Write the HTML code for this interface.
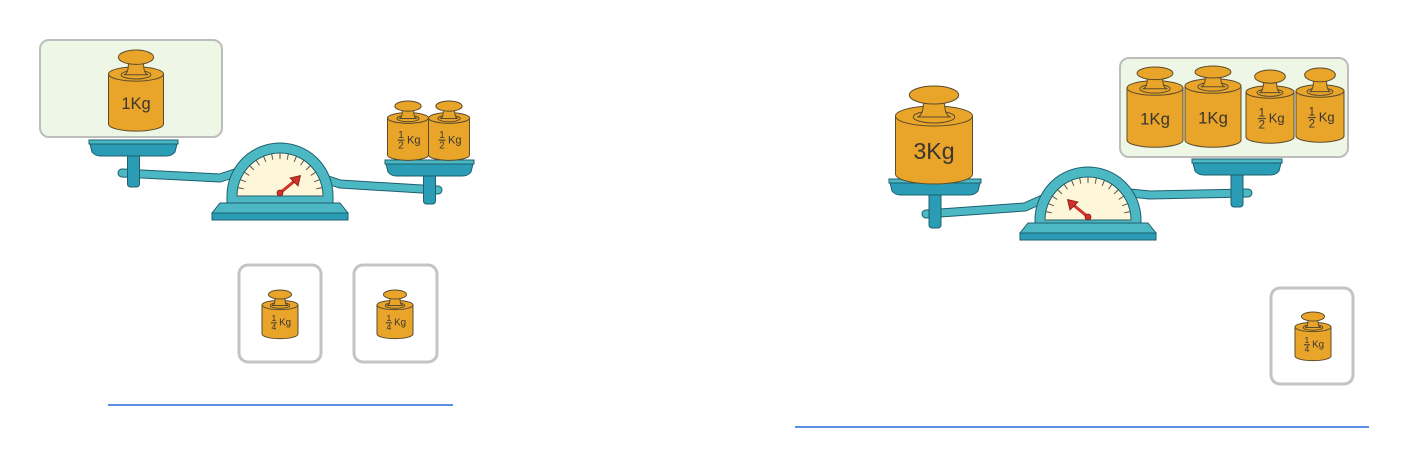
<!DOCTYPE html>
<html><head><meta charset="utf-8"><style>
html,body{margin:0;padding:0;background:#fff;width:1420px;height:467px;overflow:hidden}
svg{display:block}
text{font-family:"Liberation Sans",sans-serif;fill:#3a3530}
</style></head><body>
<svg id="s" width="1420" height="467" viewBox="0 0 1420 467">
<rect x="40" y="40" width="182" height="97" rx="9" fill="#eef6e6" stroke="#bdbdbd" stroke-width="2"/>
<rect x="1120" y="58" width="228" height="99" rx="9" fill="#eef6e6" stroke="#bdbdbd" stroke-width="2"/>
<rect x="239" y="265" width="82" height="97" rx="9" fill="#fff" stroke="#c4c4c4" stroke-width="3"/>
<rect x="354" y="265" width="83" height="97" rx="9" fill="#fff" stroke="#c4c4c4" stroke-width="3"/>
<rect x="1271" y="288" width="82" height="96" rx="9" fill="#fff" stroke="#c4c4c4" stroke-width="3"/>
<line x1="108" y1="405" x2="453" y2="405" stroke="#5b8fe6" stroke-width="2"/>
<line x1="795" y1="427" x2="1369" y2="427" stroke="#5b8fe6" stroke-width="2"/>
</svg>
<script>
const NS="http://www.w3.org/2000/svg";
const svg=document.getElementById('s');
function mk(tag,attrs,parent){const e=document.createElementNS(NS,tag);for(const k in attrs)e.setAttribute(k,attrs[k]);(parent||svg).appendChild(e);return e;}
const OR="#e8a52a",OS="#5b4a2c";
function weight(name,cx,top,bot,w,knobTop,label,num,den){
  const g=mk('g',{});
  
  
  const l=cx-w/2,r=cx+w/2,ry=w*0.13;
  mk('path',{d:`M${l},${top} L${l},${bot} A${w/2},${ry} 0 0 0 ${r},${bot} L${r},${top} Z`,fill:OR,stroke:OS,'stroke-width':1},g);
  mk('ellipse',{cx:cx,cy:top,rx:w/2,ry:ry,fill:OR,stroke:OS,'stroke-width':1},g);
  mk('ellipse',{cx:cx,cy:top+ry*0.1,rx:w*0.27,ry:ry*0.6,fill:OR,stroke:OS,'stroke-width':1},g);
  const kry=(top-knobTop)*0.3;
  mk('path',{d:`M${cx-w*0.14},${knobTop+kry} Q${cx-w*0.12},${top} ${cx-w*0.22},${top+ry*0.1} L${cx+w*0.22},${top+ry*0.1} Q${cx+w*0.12},${top} ${cx+w*0.14},${knobTop+kry} Z`,fill:OR,stroke:OS,'stroke-width':1},g);
  mk('ellipse',{cx:cx,cy:knobTop+kry,rx:w*0.32,ry:kry,fill:OR,stroke:OS,'stroke-width':1},g);
  const ty=(top+ry+bot)/2;
  const fs=w*0.3;
  if(label){const t=mk('text',{x:cx,y:ty+fs*0.4,'text-anchor':'middle','font-size':fs},g);t.textContent=label;}
  else{
    const fx=cx-w*0.17,ffs=fs*0.8;
    const t1=mk('text',{x:fx,y:ty-1,'text-anchor':'middle','font-size':ffs},g);t1.textContent=num;
    mk('line',{x1:fx-ffs*0.35,y1:ty+1,x2:fx+ffs*0.35,y2:ty+1,stroke:'#3a3530','stroke-width':1},g);
    const t2=mk('text',{x:fx,y:ty+ffs*0.85+1,'text-anchor':'middle','font-size':ffs},g);t2.textContent=den;
    const t3=mk('text',{x:cx+w*0.14,y:ty+fs*0.35,'text-anchor':'middle','font-size':fs*0.9},g);t3.textContent='Kg';
  }
}
const T1="#4bb8c4",T2="#2a9cb6",TS="#1f5f6e";
function pan(name,x1,x2,y){
  const g=mk('g',{});
  
  
  mk('path',{d:`M${x1},${y} L${x2},${y} L${x2-3},${y+12} Q${x2-6},${y+16} ${x2-12},${y+16} L${x1+12},${y+16} Q${x1+6},${y+16} ${x1+3},${y+12} Z`,fill:T2,stroke:TS,'stroke-width':1},g);
  mk('rect',{x:x1,y:y,width:x2-x1,height:4,fill:T1,stroke:TS,'stroke-width':1},g);
}
function scale(name,pl,pr,beamPts,dcx,dcy,baseY,pointerAng){
  const g=mk('g',{});
  
  
  const pts=beamPts.map(p=>p.join(',')).join(' ');
  mk('polyline',{points:pts,fill:'none',stroke:TS,'stroke-width':9,'stroke-linecap':'round','stroke-linejoin':'round'},g);
  mk('polyline',{points:pts,fill:'none',stroke:T1,'stroke-width':7,'stroke-linecap':'round','stroke-linejoin':'round'},g);
  const lb=beamPts[0][1],rb=beamPts[beamPts.length-1][1];
  mk('rect',{x:pl[0]+(pl[1]-pl[0])/2-6,y:pl[2]+10,width:12,height:lb-pl[2]+4,rx:3,fill:T2,stroke:TS,'stroke-width':1},g);
  mk('rect',{x:pr[0]+(pr[1]-pr[0])/2-6,y:pr[2]+10,width:12,height:rb-pr[2]+4,rx:3,fill:T2,stroke:TS,'stroke-width':1},g);
  const R=53;
  mk('path',{d:`M${dcx-R},${baseY} L${dcx-R},${dcy} A${R},${R} 0 0 1 ${dcx+R},${dcy} L${dcx+R},${baseY} Z`,fill:T1,stroke:TS,'stroke-width':1},g);
  const r=43;
  mk('path',{d:`M${dcx-r},${dcy} A${r},${r} 0 0 1 ${dcx+r},${dcy} Z`,fill:"#fdf6d8",stroke:TS,'stroke-width':1},g);
  for(let i=0;i<=16;i++){const a=Math.PI*i/16;mk('line',{x1:dcx-Math.cos(a)*r,y1:dcy-Math.sin(a)*r,x2:dcx-Math.cos(a)*(r-6),y2:dcy-Math.sin(a)*(r-6),stroke:'#555','stroke-width':1},g);}
  const a=pointerAng*Math.PI/180,px=dcx+Math.cos(a)*24,py=dcy-Math.sin(a)*24;
  mk('line',{x1:dcx,y1:dcy-3,x2:px,y2:py,stroke:'#d2322a','stroke-width':3},g);
  const pa=Math.atan2(py-dcy,px-dcx);
  mk('path',{d:`M${px+Math.cos(pa)*5},${py+Math.sin(pa)*5} L${px+Math.cos(pa+2.2)*7},${py+Math.sin(pa+2.2)*7} L${px+Math.cos(pa-2.2)*7},${py+Math.sin(pa-2.2)*7} Z`,fill:'#d2322a',stroke:'#7a1a14','stroke-width':0.8},g);
  mk('circle',{cx:dcx,cy:dcy-3,r:3,fill:'#d2322a',stroke:'#7a1a14','stroke-width':0.8},g);
  mk('path',{d:`M${dcx-60},${baseY} L${dcx+60},${baseY} L${dcx+68},${baseY+10} L${dcx-68},${baseY+10} Z`,fill:T1,stroke:TS,'stroke-width':1},g);
  mk('rect',{x:dcx-68,y:baseY+10,width:136,height:7,fill:T2,stroke:TS,'stroke-width':1},g);
  pan(name+'-left-pan',pl[0],pl[1],pl[2]);
  pan(name+'-right-pan',pr[0],pr[1],pr[2]);
}
scale('left-scale',[89,178,140],[385,474,160],[[122,173],[220,178],[238,172],[322,178],[340,184],[438,190]],280,196,203,45);
scale('right-scale',[889,981,179],[1192,1282,159],[[926,214],[1025,207],[1045,198],[1130,193],[1150,195],[1248,193]],1088,220,223,135);
weight('weight-1kg-left',136,74,124,55,50,'1Kg');
weight('weight-half-kg-a',408,118,155,41,101,null,'1','2');
weight('weight-half-kg-b',449,118,155,41,101,null,'1','2');
weight('weight-3kg',934,116,174,77,86,'3Kg');
weight('weight-1kg-a',1155,88,140,56,67,'1Kg');
weight('weight-1kg-b',1213,86,140,56,66,'1Kg');
weight('weight-half-kg-c',1270,92,137,48,70,null,'1','2');
weight('weight-half-kg-d',1320,91,136,48,68,null,'1','2');
weight('option-weight-quarter-1',280,305,334,36,290,null,'1','4');
weight('option-weight-quarter-2',395,305,334,36,290,null,'1','4');
weight('option-weight-quarter-3',1313,327,356,36,312,null,'1','4');
</script>
</body></html>
